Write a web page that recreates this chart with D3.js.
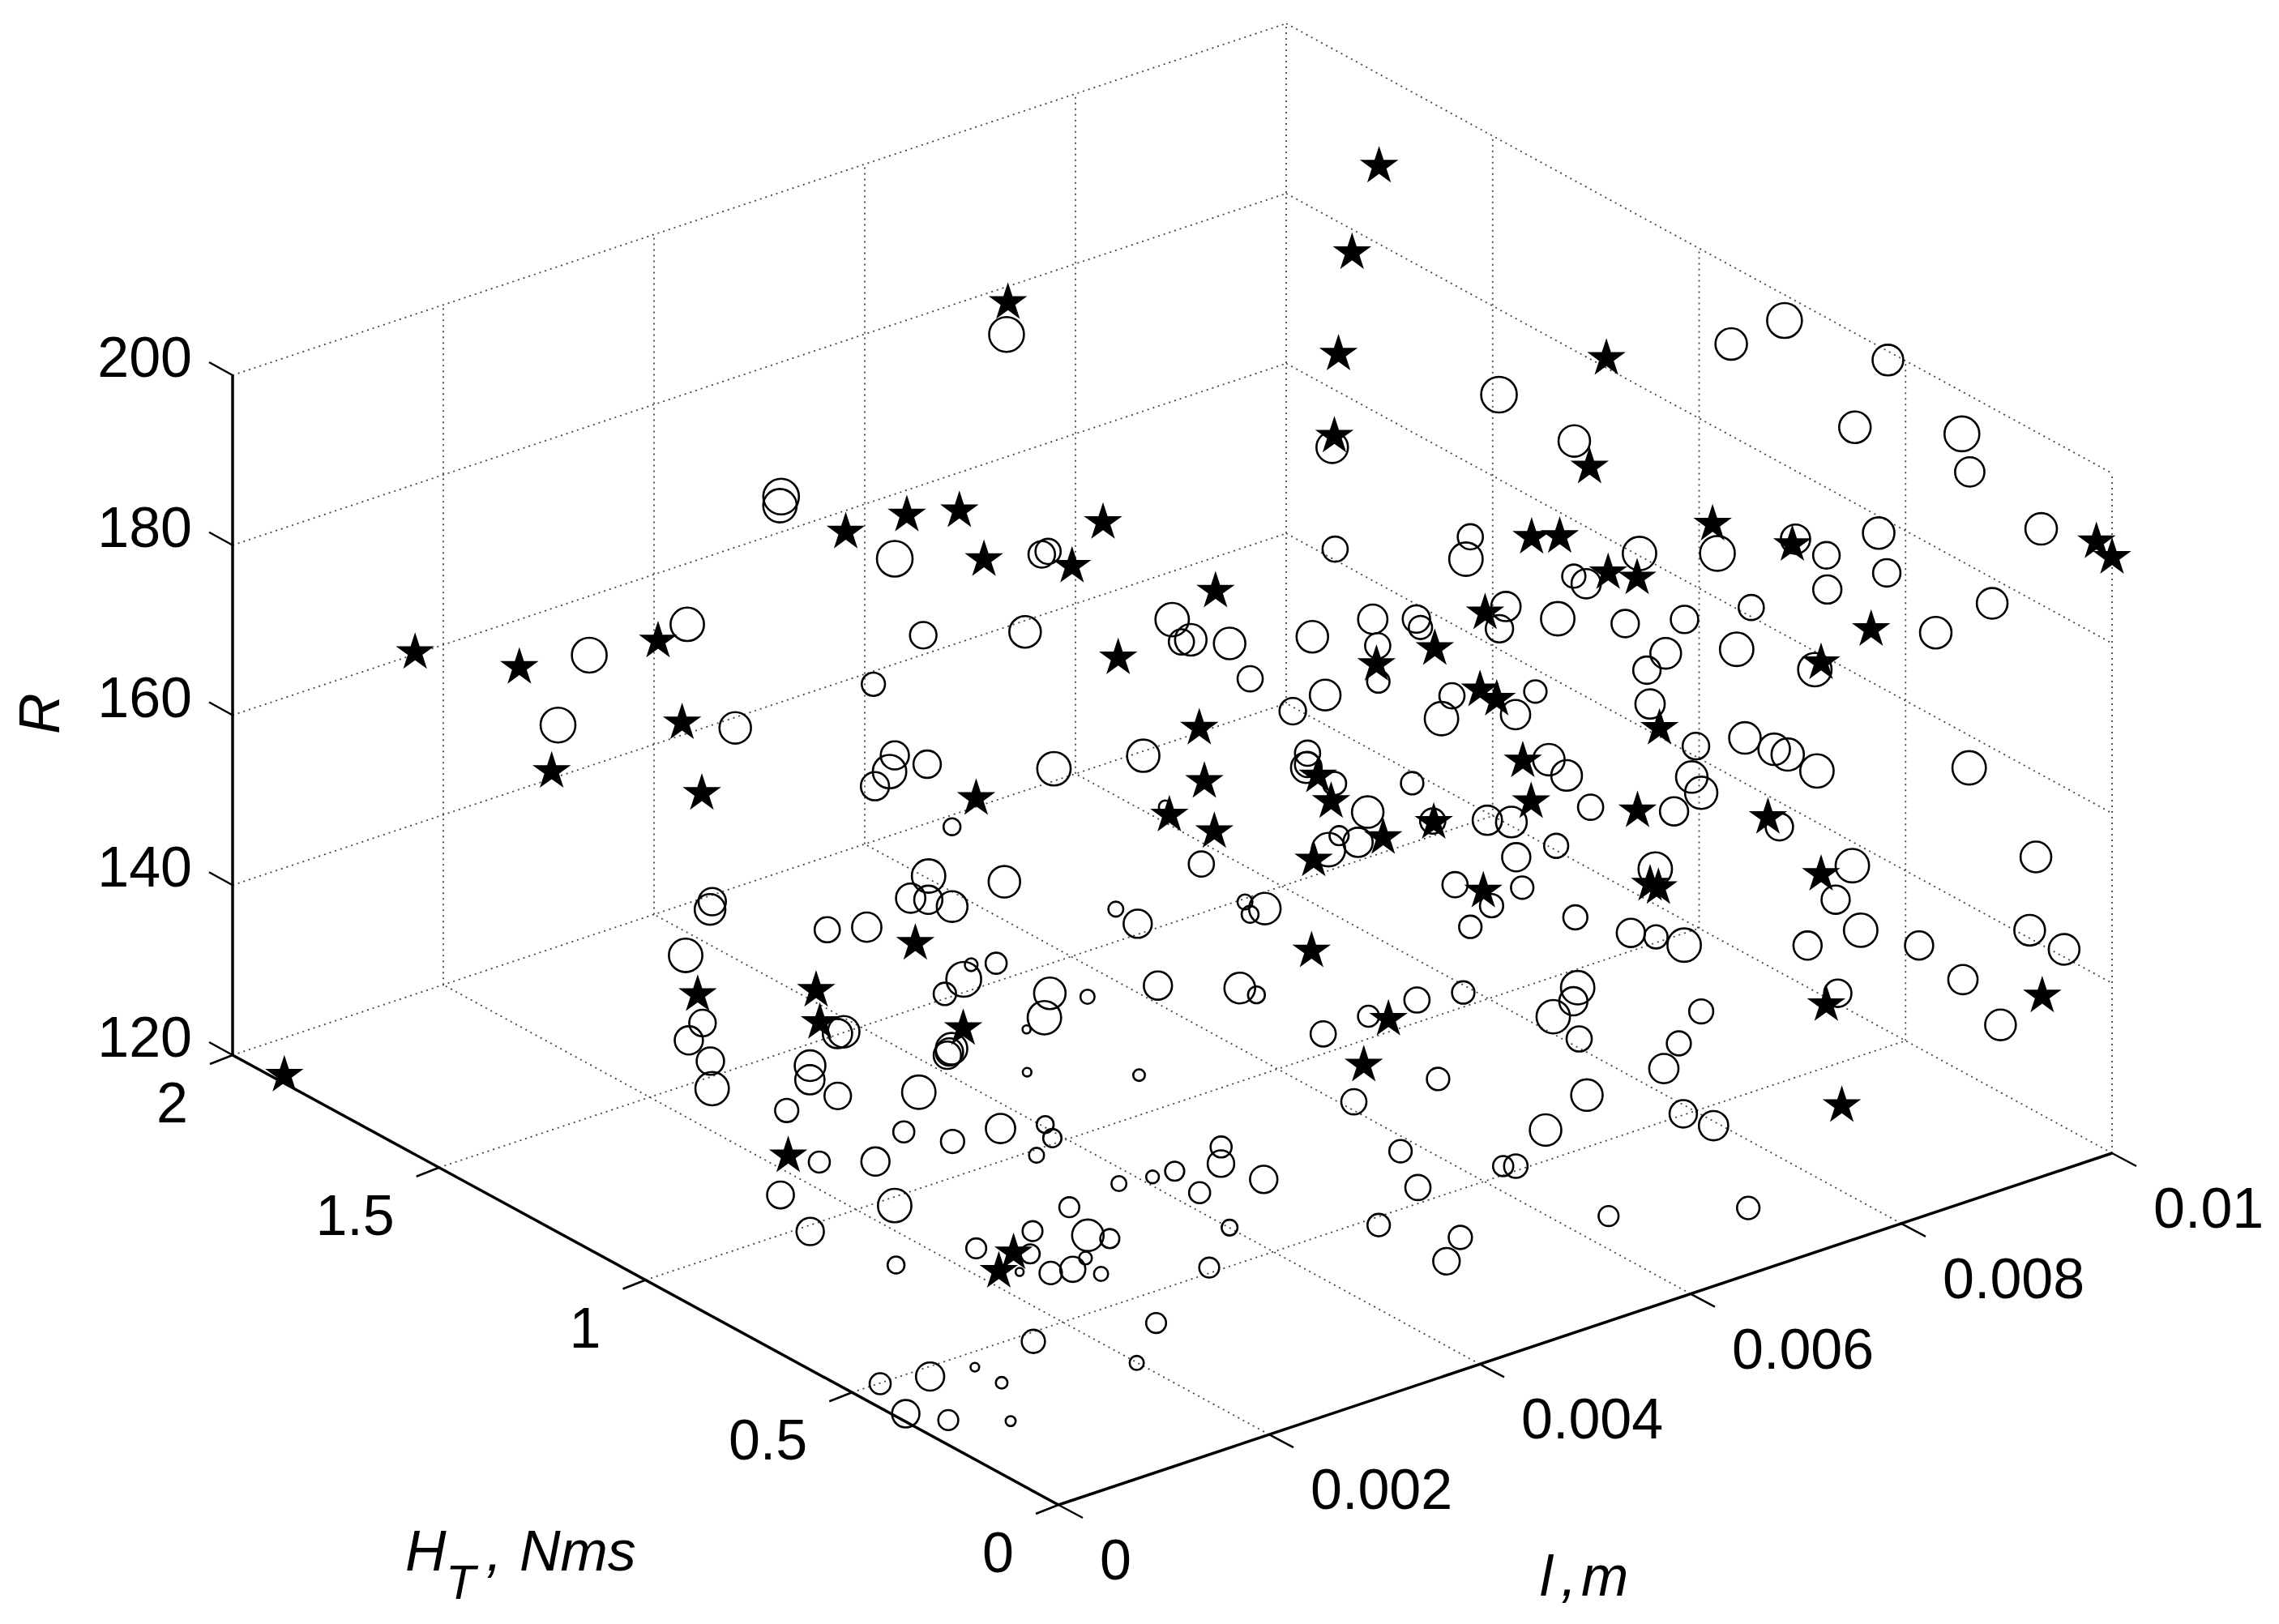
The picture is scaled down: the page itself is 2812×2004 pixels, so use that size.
<!DOCTYPE html>
<html>
<head>
<meta charset="utf-8">
<style>
html, body { margin: 0; background: #fff; }
svg { display: block; }
text { font-family: "Liberation Sans", Arial, sans-serif; fill: #000; }
</style>
<script src="https://cdn.jsdelivr.net/npm/d3@7"></script>
</head>
<body>
<script>
const lTicks = [0, 0.002, 0.004, 0.006, 0.008, 0.01];
const hTicks = [0, 0.5, 1, 1.5, 2];
const rTicks = [120, 140, 160, 180, 200];

// l (m), H_T (Nms), R, marker weight 0-100
const circleData = [
[0.00356,1.58,182.1,100],[0.00351,1.57,181.5,92],[0.00617,1.70,187.2,97],[0.00785,1.34,176.5,85],[0.00729,1.19,170.8,62],[0.00775,0.98,175.9,62],[0.00763,0.96,174.3,92],[0.00409,1.44,176.3,100],
[0.00525,1.38,173.6,67],[0.00531,1.38,173.7,62],[0.00861,1.13,185.1,100],[0.00987,0.76,198.4,97],[0.00956,0.81,195.6,85],[0.00995,0.53,199.5,82],[0.00948,0.49,194.6,85],[0.00979,0.31,197.3,97],
[0.00858,0.94,184.8,85],[0.00959,0.24,195.5,77],[0.00968,0.09,192.4,85],[0.00900,0.31,188.9,85],[0.00818,0.68,180.1,92],[0.00841,0.55,182.6,97],[0.00872,0.44,185.9,77],[0.00870,0.36,186.2,67],
[0.00170,1.57,171.4,97],[0.00216,1.45,176.3,92],[0.00156,1.61,162.7,97],[0.00238,1.39,164.8,85],[0.00224,1.41,144.4,70],[0.00218,1.40,144.0,82],[0.00243,1.18,146.4,62],[0.00187,1.38,140.4,92],
[0.00156,1.26,136.9,67],[0.00143,1.26,135.4,73],[0.00136,1.19,135.1,70],[0.00122,1.15,133.5,92],[0.00164,1.02,137.9,82],[0.00156,1.00,137.1,77],[0.00190,1.02,140.6,77],[0.00192,1.01,141.0,85],
[0.00155,0.93,137.1,67],[0.00134,1.00,134.4,55],[0.00389,1.32,171.3,67],[0.00470,1.28,169.4,85],[0.00326,1.28,169.2,55],[0.00590,1.23,167.2,92],[0.00587,1.20,165.5,62],[0.00592,1.19,165.8,85],
[0.00621,1.17,164.7,85],[0.00617,1.11,162.3,62],[0.00676,1.11,164.8,85],[0.00702,1.03,167.9,77],[0.00691,0.99,166.3,62],[0.00716,0.96,169.2,70],[0.00712,0.94,168.9,55],[0.00672,0.94,164.2,52],
[0.00649,1.01,161.7,82],[0.00630,1.04,159.8,67],[0.00687,0.80,165.6,62],[0.00681,0.81,162.9,92],[0.00315,1.20,163.4,73],[0.00310,1.20,161.7,92],[0.00304,1.22,159.7,73],[0.00330,1.16,162.8,70],
[0.00419,1.08,160.7,92],[0.00492,1.05,160.0,88],[0.00597,0.92,159.4,62],[0.00593,0.91,158.5,62],[0.00588,0.90,158.6,82],[0.00603,0.87,156.9,55],[0.00611,0.81,154.8,85],[0.00576,0.79,154.0,40],
[0.00562,0.78,153.2,92],[0.00590,0.78,152.9,77],[0.00661,0.83,155.6,52],[0.00458,0.91,159.1,17],[0.00657,0.77,152.9,62],[0.00701,0.75,151.7,77],[0.00334,1.11,156.6,32],[0.00300,1.08,153.0,92],
[0.00283,1.08,151.1,77],[0.00288,1.05,151.5,73],[0.00291,1.00,151.9,82],[0.00321,0.95,154.9,85],[0.00257,1.12,147.7,77],[0.00368,0.80,153.7,25],[0.00377,0.77,152.4,73],[0.00457,0.82,154.8,62],
[0.00471,0.75,151.6,25],[0.00468,0.73,150.8,32],[0.00482,0.73,150.9,85],[0.00639,0.67,148.8,62],[0.00658,0.63,146.6,55],[0.00630,0.61,145.8,52],[0.00266,0.89,149.0,17],[0.00255,0.88,148.0,97],
[0.00274,0.85,149.9,47],[0.00241,0.89,146.6,52],[0.00274,0.72,149.8,85],[0.00261,0.70,148.0,92],[0.00298,0.69,149.2,22],[0.00248,0.71,146.9,0],[0.00357,0.67,148.6,73],[0.00419,0.63,146.8,82],
[0.00427,0.61,146.2,32],[0.00502,0.53,142.7,47],[0.00548,0.53,142.7,62],[0.00588,0.52,142.2,52],[0.00459,0.53,142.4,62],[0.00521,0.41,137.7,52],[0.00445,0.42,137.9,62],[0.00214,0.81,143.0,70],
[0.00216,0.81,143.3,85],[0.00212,0.81,142.7,70],[0.00181,0.80,139.9,92],[0.00225,0.65,144.4,2],[0.00296,0.56,143.5,13],[0.00787,0.76,176.6,55],[0.00787,0.73,176.5,77],[0.00750,0.83,172.7,77],
[0.00736,0.81,171.2,70],[0.00760,0.73,173.5,92],[0.00777,0.61,175.4,70],[0.00798,0.52,177.4,70],[0.00830,0.44,179.6,62],[0.00863,0.34,183.0,73],[0.00892,0.27,185.6,70],[0.00788,0.54,173.3,82],
[0.00778,0.56,171.2,70],[0.00824,0.46,174.4,92],[0.00915,0.21,179.2,85],[0.00945,0.15,183.0,82],[0.00859,0.36,173.2,92],[0.00727,0.70,167.1,52],[0.00716,0.72,164.3,77],[0.00781,0.56,167.1,77],
[0.00801,0.50,162.9,67],[0.00824,0.44,164.5,85],[0.00840,0.41,163.3,85],[0.00845,0.39,163.0,88],[0.00861,0.36,161.2,92],[0.00931,0.17,163.7,92],[0.00801,0.51,159.0,85],[0.00806,0.50,157.2,88],
[0.00732,0.68,159.4,85],[0.00741,0.66,157.7,82],[0.00752,0.63,154.3,62],[0.00792,0.53,154.8,73],[0.00841,0.40,154.4,70],[0.00716,0.73,151.4,82],[0.00735,0.67,149.4,58],[0.00701,0.68,149.2,73],
[0.00691,0.64,147.1,52],[0.00782,0.55,147.9,92],[0.00875,0.31,150.8,92],[0.00867,0.33,146.6,73],[0.00963,0.09,154.0,82],[0.00714,0.57,144.5,58],[0.00751,0.53,142.2,73],[0.00767,0.51,141.6,55],
[0.00782,0.48,140.8,92],[0.00856,0.37,140.6,73],[0.00879,0.30,143.3,92],[0.00907,0.23,142.2,73],[0.00961,0.10,145.2,82],[0.00978,0.06,143.3,82],[0.00929,0.18,138.6,77],[0.00869,0.33,135.5,70],
[0.00949,0.14,133.5,82],[0.00677,0.47,140.4,92],[0.00669,0.46,139.4,73],[0.00646,0.45,138.8,92],[0.00651,0.40,137.3,62],[0.00759,0.38,136.6,58],[0.00726,0.35,135.0,58],[0.00700,0.32,133.9,77],
[0.00627,0.32,133.8,85],[0.00691,0.25,130.8,70],[0.00708,0.22,129.5,77],[0.00576,0.29,132.6,85],[0.00085,0.89,129.4,68],[0.00155,0.77,137.1,47],[0.00166,0.68,137.9,55],[0.00188,0.62,140.1,77],
[0.00203,0.55,141.8,32],[0.00198,0.52,141.2,37],[0.00183,0.52,139.8,25],[0.00114,0.87,132.6,47],[0.00132,0.78,134.3,73],[0.00115,0.69,132.2,92],[0.00074,0.79,128.2,70],[0.00222,0.42,137.5,25],
[0.00250,0.41,137.4,17],[0.00271,0.41,137.2,40],[0.00319,0.42,137.8,47],[0.00311,0.40,136.7,67],[0.00279,0.37,135.4,47],[0.00332,0.35,135.3,70],[0.00171,0.41,137.1,43],[0.00140,0.42,135.3,43],
[0.00169,0.36,135.2,85],[0.00182,0.34,134.8,40],[0.00114,0.49,132.5,43],[0.00126,0.39,134.0,40],[0.00155,0.33,133.9,17],[0.00116,0.39,132.3,0],[0.00122,0.33,133.5,52],[0.00139,0.32,133.5,62],
[0.00158,0.30,132.7,22],[0.00081,0.60,129.0,32],[0.00280,0.30,133.1,28],[0.00245,0.26,130.9,43],[0.00175,0.21,128.6,43],[0.00082,0.27,128.7,55],[0.00137,0.16,126.8,22],[0.00015,0.47,121.2,47],
[0.00031,0.39,123.5,73],[0.00050,0.33,125.4,2],[0.00048,0.26,125.5,13],[0.00004,0.38,120.5,70],[0.00013,0.30,121.5,43],[0.00033,0.20,123.2,7],[0.00454,0.33,134.1,52],[0.00447,0.27,131.7,62],
[0.00398,0.24,130.1,52],[0.00452,0.18,128.0,55],[0.00431,0.16,126.6,67],[0.00536,0.26,130.8,56],[0.00524,0.26,131.3,44],[0.00577,0.14,126.4,43],[0.00690,0.09,124.0,52]
];

// l (m), H_T (Nms), R
const starData = [
[0.00386,1.50,178.8],[0.00951,1.65,194.5],[0.00894,1.57,188.8],[0.00838,1.46,182.1],[0.00791,1.35,177.3],[0.00634,1.74,189.2],[0.00444,1.50,178.4],[0.00486,1.48,177.7],
[0.00591,1.40,174.1],[0.00478,1.40,174.4],[0.00542,1.35,172.3],[0.00912,1.00,190.7],[0.00849,0.88,183.7],[0.00856,0.60,184.1],[0.00794,0.88,177.7],[0.00805,0.84,178.4],
[0.00869,0.44,185.4],[0.00993,0.02,191.7],[0.01000,0.00,190.1],[0.00087,1.78,169.6],[0.00135,1.65,169.3],[0.00200,1.48,174.2],[0.00215,1.46,164.5],[0.00150,1.61,157.5],
[0.00222,1.43,156.7],[0.00171,1.31,138.3],[0.00205,1.11,142.7],[0.00189,1.06,140.9],[0.00006,1.89,120.3],[0.00639,1.25,168.0],[0.00527,1.20,166.1],[0.00553,1.07,160.2],
[0.00503,0.93,159.7],[0.00458,0.90,158.4],[0.00485,0.86,156.4],[0.00595,0.89,157.6],[0.00588,0.84,156.2],[0.00610,0.77,152.9],[0.00544,0.77,153.0],[0.00353,1.10,159.4],
[0.00260,1.01,148.6],[0.00231,0.82,144.8],[0.00495,0.65,147.5],[0.00658,0.77,152.7],[0.00517,0.52,142.0],[0.00474,0.47,139.7],[0.00658,0.65,147.8],[0.00742,0.86,171.5],
[0.00706,0.89,168.0],[0.00682,0.97,165.0],[0.00698,0.76,166.9],[0.00706,0.74,166.0],[0.00800,0.71,177.8],[0.00804,0.65,178.6],[0.00719,0.71,159.0],[0.00723,0.70,154.3],
[0.00781,0.56,145.9],[0.00785,0.55,145.6],[0.00786,0.55,164.3],[0.00773,0.57,154.6],[0.00838,0.42,155.1],[0.00861,0.35,149.3],[0.00862,0.34,134.2],[0.00969,0.09,137.4],
[0.00818,0.19,128.1],[0.00885,0.29,178.7],[0.00861,0.35,174.2],[0.00108,0.93,132.0],[0.00122,0.42,133.5],[0.00108,0.42,131.9]
];

const width = 2812;
const height = 2004;

// oblique view of the box: each data axis gets its own screen offset scale
const origin = { x: 1306, y: 1857 };
const lX = d3.scaleLinear().domain([0, 0.01]).range([0, 1300]);
const lY = d3.scaleLinear().domain([0, 0.01]).range([0, -434]);
const hX = d3.scaleLinear().domain([0, 2]).range([0, -1019]);
const hY = d3.scaleLinear().domain([0, 2]).range([0, -555]);
const rY = d3.scaleLinear().domain([120, 200]).range([0, -839]);
const markerR = d3.scaleLinear().domain([0, 100]).range([5, 22]);

function project(l, h, r) {
    return [origin.x + lX(l) + hX(h), origin.y + lY(l) + hY(h) + rY(r)];
}

const svg = d3.select("body").append("svg")
    .attr("width", width)
    .attr("height", height);

function drawLine(parent, a, b, stroke, strokeWidth, dash) {
    parent.append("line")
        .attr("x1", a[0]).attr("y1", a[1])
        .attr("x2", b[0]).attr("y2", b[1])
        .attr("stroke", stroke)
        .attr("stroke-width", strokeWidth)
        .attr("stroke-dasharray", dash || null);
}

const lMax = lTicks[lTicks.length - 1];
const hMax = hTicks[hTicks.length - 1];
const rMin = rTicks[0];
const rMax = rTicks[rTicks.length - 1];

// grid on the floor and the two back walls
const grid = svg.append("g");
const gridLine = (a, b) => drawLine(grid, a, b, "#444", 1.8, "2 5");

lTicks.slice(1).forEach(l => {
    gridLine(project(l, 0, rMin), project(l, hMax, rMin));
    gridLine(project(l, hMax, rMin), project(l, hMax, rMax));
});
hTicks.slice(1).forEach(h => {
    gridLine(project(0, h, rMin), project(lMax, h, rMin));
});
hTicks.slice(0, -1).forEach(h => {
    gridLine(project(lMax, h, rMin), project(lMax, h, rMax));
});
rTicks.slice(1).forEach(r => {
    gridLine(project(0, hMax, r), project(lMax, hMax, r));
    gridLine(project(lMax, hMax, r), project(lMax, 0, r));
});

// axes
const axes = svg.append("g");
drawLine(axes, project(0, hMax, rMin), project(0, hMax, rMax), "#000", 3.5);
drawLine(axes, project(0, 0, rMin), project(0, hMax, rMin), "#000", 3.5);
drawLine(axes, project(0, 0, rMin), project(lMax, 0, rMin), "#000", 3.5);

function tickLabel(x, y, anchor, value) {
    axes.append("text")
        .attr("x", x)
        .attr("y", y)
        .attr("text-anchor", anchor)
        .attr("font-size", 70)
        .text(value);
}

rTicks.forEach(r => {
    const p = project(0, hMax, r);
    drawLine(axes, p, [p[0] - 29, p[1] - 16], "#000", 2.5);
    tickLabel(p[0] - 50, p[1] + 2, "end", r);
});
hTicks.forEach(h => {
    const p = project(0, h, rMin);
    drawLine(axes, p, [p[0] - 28, p[1] + 11], "#000", 2.5);
    tickLabel(p[0] - 55, p[1] + 83, "end", h);
});
lTicks.forEach(l => {
    const p = project(l, 0, rMin);
    drawLine(axes, p, [p[0] + 30, p[1] + 16], "#000", 2.5);
    tickLabel(p[0] + 51, p[1] + 92, "start", l);
});

// markers
svg.append("g").selectAll("circle")
    .data(circleData)
    .enter()
    .append("circle")
    .attr("cx", d => project(d[0], d[1], d[2])[0])
    .attr("cy", d => project(d[0], d[1], d[2])[1])
    .attr("r", d => markerR(d[3]))
    .attr("fill", "none")
    .attr("stroke", "#000")
    .attr("stroke-width", 2.6);

svg.append("g").selectAll("path")
    .data(starData)
    .enter()
    .append("path")
    .attr("d", d3.symbol(d3.symbolStar).size(700))
    .attr("transform", d => {
        const p = project(d[0], d[1], d[2]);
        return `translate(${p[0]},${p[1]})`;
    })
    .attr("fill", "#000");

// axis titles
function title(x, y, size, value) {
    svg.append("text")
        .attr("x", x)
        .attr("y", y)
        .attr("font-size", size)
        .attr("font-style", "italic")
        .text(value);
}

title(500, 1938, 70, "H");
title(550, 1973, 60, "T");
title(600, 1938, 70, ",");
title(641, 1938, 70, "Nms");
title(1900, 1969, 70, "l");
title(1926, 1969, 70, ",");
title(1951, 1969, 70, "m");

svg.append("text")
    .attr("transform", "translate(73,906) rotate(-90)")
    .attr("font-size", 70)
    .attr("font-style", "italic")
    .text("R");
</script>
</body>
</html>
